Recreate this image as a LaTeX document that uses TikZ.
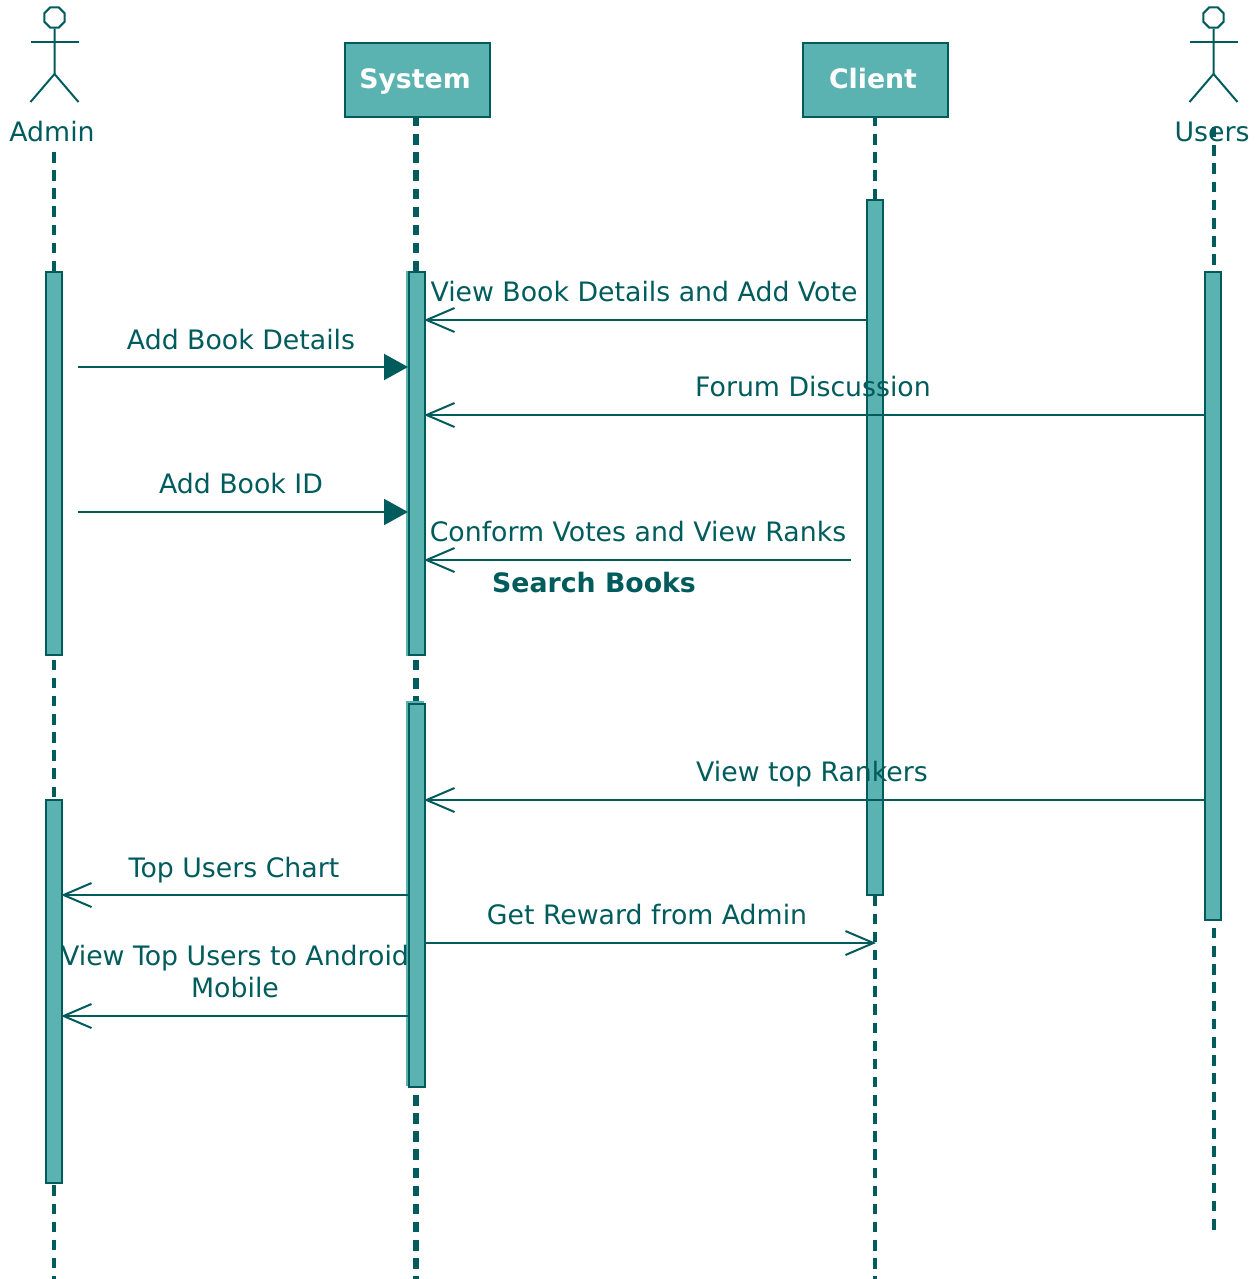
\documentclass[tikz,border=0pt]{standalone}
\usepackage{fontspec}
\setmainfont{DejaVu Sans}
\usetikzlibrary{arrows.meta, shapes.geometric}
\definecolor{linecolor}{RGB}{0, 92, 92}
\definecolor{boxcolor}{RGB}{90, 179, 177}

\begin{document}
\begin{tikzpicture}[
    x=1pt, y=-1pt,
    object/.style={draw=linecolor, fill=boxcolor, line width=2pt, minimum width=145pt, minimum height=74pt, inner sep=0pt},
    head/.style={draw=linecolor, line width=2pt, regular polygon, regular polygon sides=8, minimum size=22pt, inner sep=0pt},
    bar/.style={draw=linecolor, fill=boxcolor, line width=2pt, minimum width=16pt, inner sep=0pt},
    barback/.style={fill=boxcolor, minimum width=18pt, inner sep=0pt},
    lifeline/.style={draw=linecolor, line width=4pt, dash pattern=on 10.5pt off 7.63pt},
    label/.style={text=linecolor, inner sep=0pt, anchor=base, align=center, font=\fontsize{26.75}{32}\selectfont},
    title/.style={label, text=white, font=\fontsize{26.75}{32}\selectfont\bfseries},
    found/.style={draw=linecolor, line width=2pt, -{Triangle[length=24pt, width=26pt, fill=linecolor]}},
    reply/.style={draw=linecolor, line width=2pt, shorten >=-2pt, -{Straight Barb[length=28pt, width=24pt, line width=2pt]}}
]
    \useasboundingbox (0,0) rectangle (1257,1279);

    % Objects
    \node[object] (system) at (417.5,80) {};
    \node[object] (client) at (875.5,80) {};
    \node[title] (systemlabel) at (415,89) {System};
    \node[title] (clientlabel) at (873,89) {Client};

    % Actors
    \foreach \name/\xpos in {admin/54.5, users/1213.5} {
        \node[head] (\name head) at (\xpos,17.5) {};
        \draw[draw=linecolor, line width=2pt] (\name head.south) -- (\xpos,74) -- (\xpos-24,102);
        \draw[draw=linecolor, line width=2pt] (\xpos,74) -- (\xpos+24,102);
        \draw[draw=linecolor, line width=2pt] (\xpos-24,42) -- (\xpos+24,42);
    }
    \node[label] (admin) at (52,142) {Admin};
    \node[label] (users) at (1212,142) {Users};

    % Lifelines
    \coordinate (adminstart) at (54,152);
    \coordinate (adminend) at (54,1279);
    \coordinate (systemend) at (416,1279);
    \coordinate (clientend) at (875,1279);
    \coordinate (usersstart) at (1213.5,127);
    \coordinate (usersend) at (1213.5,1230);
    \draw[lifeline] (adminstart) -- (adminend);
    \draw[lifeline, line width=5.5pt, shorten <=-2pt] (system.south -| systemend) -- (systemend);
    \draw[lifeline, shorten <=-2pt] (client.south -| clientend) -- (clientend);
    \draw[lifeline, dash pattern=on 10.5pt off 7.7pt] (usersstart) -- (usersend);

    % Activation bars
    \node[barback, minimum height=384pt] (adminbackA) at (53.5,463) {};
    \node[bar, minimum height=383pt] (adminbarA) at (54,463.5) {};
    \node[barback, minimum height=384pt] (adminbackB) at (53.5,991) {};
    \node[bar, minimum height=383pt] (adminbarB) at (54,991.5) {};
    \node[barback, minimum height=385pt] (systembackA) at (415,463) {};
    \node[bar, minimum height=383pt] (systembarA) at (417,463.5) {};
    \node[barback, minimum height=385pt] (systembackB) at (415,893.5) {};
    \node[bar, minimum height=383pt] (systembarB) at (417,895.5) {};
    \node[barback, minimum height=696pt] (clientback) at (874.5,546.5) {};
    \node[bar, minimum height=695pt] (clientbar) at (875,547.5) {};
    \node[barback, minimum height=649pt] (usersback) at (1212.5,595) {};
    \node[bar, minimum height=648pt] (usersbar) at (1213,596) {};

    % Messages
    \coordinate (detailsout) at (78,367);
    \coordinate (idout) at (78,512);
    \coordinate (votesout) at (851,560);
    \coordinate (rewardin) at (874,943);
    \draw[reply] (clientbar.west |- 0,320) -- (systembarA.east |- 0,320);
    \draw[found] (detailsout) -- (systembarA.west |- detailsout);
    \draw[reply] (usersbar.west |- 0,415) -- (systembarA.east |- 0,415);
    \draw[found] (idout) -- (systembarA.west |- idout);
    \draw[reply] (votesout) -- (systembarA.east |- votesout);
    \draw[reply] (usersbar.west |- 0,800) -- (systembarB.east |- 0,800);
    \draw[reply] (systembarB.west |- 0,895) -- (adminbarB.east |- 0,895);
    \draw[reply] (systembarB.east |- rewardin) -- (rewardin);
    \draw[reply] (systembarB.west |- 0,1016) -- (adminbarB.east |- 0,1016);

    % Message labels
    \node[label] (viewvote) at (644,301) {View Book Details and Add Vote};
    \node[label] (adddetails) at (241,349) {Add Book Details};
    \node[label] (forum) at (813,396) {Forum Discussion};
    \node[label] (addid) at (241,493) {Add Book ID};
    \node[label] (conform) at (638,541) {Conform Votes and View Ranks};
    \node[label, font=\fontsize{26.75}{32}\selectfont\bfseries] (search) at (594,592) {Search Books};
    \node[label] (viewtop) at (812,781) {View top Rankers};
    \node[label] (chart) at (234,877) {Top Users Chart};
    \node[label] (reward) at (647,924) {Get Reward from Admin};
    \node[label, anchor=center] (android) at (235,972) {View Top Users to Android\\Mobile};

\end{tikzpicture}
\end{document}
